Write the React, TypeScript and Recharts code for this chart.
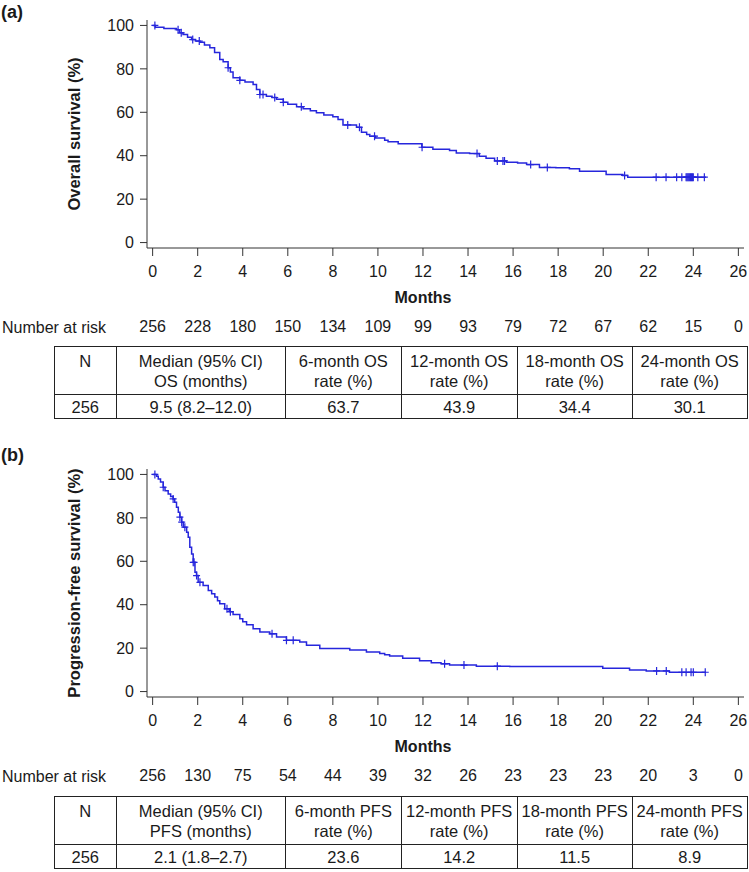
import React from 'react';
import { ComposedChart, Line, Scatter, XAxis, YAxis } from 'recharts';

const monthTicks = [0, 2, 4, 6, 8, 10, 12, 14, 16, 18, 20, 22, 24, 26];
const survivalTicks = [0, 20, 40, 60, 80, 100];

// ---- Overall survival (panel a) ----
const osMonths = [0, 0.12, 0.5, 1.06, 1.2, 1.35, 1.55, 1.73, 1.9, 2.1, 2.3, 2.54, 2.75, 2.98, 3.13, 3.35, 3.45, 3.57, 3.87, 4.1, 4.46, 4.61, 4.76, 5.05, 5.3, 5.5, 5.8, 6.0, 6.39, 6.68, 7.0, 7.27, 7.6, 8.0, 8.23, 8.45, 9.05, 9.27, 9.5, 9.64, 9.9, 10.3, 10.45, 10.9, 11.95, 12.44, 13.18, 13.48, 14.07, 14.5, 14.8, 15.18, 15.7, 16.2, 16.6, 17.17, 17.9, 18.5, 18.95, 20.13, 20.87, 21.09, 24.56];
const osSurvival = [100, 99.2, 98.6, 98.0, 96.6, 95.8, 94.5, 93.5, 92.8, 92.3, 91.0, 89.7, 87.5, 84.3, 83.3, 80.5, 78.5, 75.9, 74.7, 74.0, 72.8, 70.5, 68.2, 67.4, 66.8, 66.0, 64.6, 63.7, 62.6, 61.6, 60.7, 59.8, 58.8, 57.9, 56.7, 54.2, 53.1, 50.8, 49.8, 49.0, 48.2, 47.1, 46.4, 45.5, 43.9, 43.0, 42.4, 41.3, 41.0, 39.8, 38.8, 37.6, 37.0, 36.7, 35.9, 34.6, 34.4, 34.0, 32.9, 31.3, 30.9, 30.1, 30.1];
const osCensorMonths = [0.1, 1.13, 1.27, 1.78, 2.07, 3.35, 3.87, 4.76, 4.9, 5.42, 5.8, 6.6, 8.66, 9.18, 9.85, 11.96, 14.4, 15.3, 15.55, 15.62, 16.78, 17.52, 20.95, 22.35, 22.79, 23.26, 23.49, 23.68, 23.72, 23.76, 23.8, 23.84, 23.88, 23.92, 23.96, 24.0, 24.2, 24.49];
const osAtRisk = [256, 228, 180, 150, 134, 109, 99, 93, 79, 72, 67, 62, 15, 0];
const osHeader = [['N'], ['Median (95% CI)', 'OS (months)'], ['6-month OS', 'rate (%)'], ['12-month OS', 'rate (%)'], ['18-month OS', 'rate (%)'], ['24-month OS', 'rate (%)']];
const osRow = ['256', '9.5 (8.2–12.0)', '63.7', '43.9', '34.4', '30.1'];

// ---- Progression-free survival (panel b) ----
const pfsMonths = [0, 0.18, 0.25, 0.35, 0.47, 0.55, 0.69, 0.8, 0.91, 0.98, 1.06, 1.14, 1.21, 1.29, 1.36, 1.51, 1.58, 1.65, 1.73, 1.8, 1.88, 1.95, 2.02, 2.24, 2.47, 2.62, 2.76, 2.88, 2.98, 3.2, 3.4, 3.57, 3.87, 4.0, 4.17, 4.46, 4.76, 5.2, 5.5, 5.94, 6.53, 6.83, 7.42, 8.75, 9.49, 10.08, 10.3, 10.52, 11.1, 11.85, 12.37, 12.8, 13.18, 14.37, 15.85, 19.98, 21.17, 21.91, 22.94, 24.56];
const pfsSurvival = [100, 99.2, 97.9, 96.5, 94.1, 92.5, 91.0, 89.8, 88.7, 87.2, 84.9, 82.6, 80.3, 78.0, 75.7, 73.4, 71.1, 66.5, 63.4, 59.5, 54.9, 53.4, 50.3, 48.8, 46.5, 45.0, 43.5, 41.8, 40.4, 38.1, 36.8, 35.5, 33.5, 32.2, 30.8, 28.9, 27.4, 26.6, 25.1, 23.6, 22.8, 21.3, 19.8, 19.2, 18.2, 17.5, 17.0, 16.4, 15.3, 14.2, 13.3, 12.8, 12.2, 11.7, 11.5, 10.7, 9.9, 9.5, 8.9, 8.9];
const pfsCensorMonths = [0.1, 0.47, 0.91, 1.21, 1.29, 1.43, 1.8, 1.84, 1.95, 2.1, 3.3, 3.45, 5.3, 5.94, 6.24, 12.96, 13.82, 15.3, 22.37, 22.8, 23.49, 23.68, 23.9, 24.0, 24.53];
const pfsAtRisk = [256, 130, 75, 54, 44, 39, 32, 26, 23, 23, 23, 20, 3, 0];
const pfsHeader = [['N'], ['Median (95% CI)', 'PFS (months)'], ['6-month PFS', 'rate (%)'], ['12-month PFS', 'rate (%)'], ['18-month PFS', 'rate (%)'], ['24-month PFS', 'rate (%)']];
const pfsRow = ['256', '2.1 (1.8–2.7)', '23.6', '14.2', '11.5', '8.9'];

const colWidths = [61.5, 169.5, 115.7, 116, 115, 115];
const FONT = '"Liberation Sans", Arial, sans-serif';
const BLUE = '#2626dc';
const TEXT = '#1a1a1a';

function stepAt(months: number[], values: number[], t: number) {
  let v = values[0];
  for (let i = 0; i < months.length; i++) if (months[i] <= t) v = values[i];
  return v;
}

const CensorMark = (props: any) => {
  const { cx, cy } = props;
  if (cx == null || cy == null) return null;
  return <path d={`M${cx - 3.5},${cy}h7M${cx},${cy - 4}v8`} stroke={BLUE} strokeWidth={1.2} fill="none" />;
};

type PanelProps = {
  top: number;
  letter: string;
  letterTop: number;
  yLabel: string;
  months: number[];
  values: number[];
  censor: number[];
  atRisk: number[];
  header: string[][];
  row: string[];
  tableTop: number;
};

function Panel(p: PanelProps) {
  const curve = p.months.map((m, i) => ({ m, v: p.values[i] }));
  const marks = p.censor.map((m) => ({ m, v: stepAt(p.months, p.values, m) }));
  const cell: React.CSSProperties = { border: '1px solid #222', padding: 0, textAlign: 'center', verticalAlign: 'middle', whiteSpace: 'nowrap' };
  return (
    <div style={{ position: 'absolute', left: 0, top: p.top, width: 749, height: 430 }}>
      <div style={{ position: 'absolute', left: 1, top: p.letterTop, fontWeight: 'bold', fontSize: 18, lineHeight: '18px', color: TEXT }}>{p.letter}</div>
      <ComposedChart width={749} height={343} margin={{ top: 20, right: 5, bottom: 0, left: 0 }}>
        <XAxis
          xAxisId="m"
          dataKey="m"
          type="number"
          domain={[-0.25, 26.25]}
          ticks={monthTicks}
          interval={0}
          allowDataOverflow
          height={60}
          tickSize={8}
          tickMargin={10}
          stroke="#333"
          tick={{ fill: TEXT, fontSize: 16 }}
          label={{
            content: (lp: any) => {
              const vb = lp.viewBox || { x: 147, y: 248, width: 597 };
              return (
                <text x={vb.x + vb.width * (12.25 / 26.5)} y={vb.y + 54.5} textAnchor="middle" fontWeight="bold" fontSize={16} fill={TEXT}>
                  Months
                </text>
              );
            },
          }}
        />
        <XAxis
          xAxisId="risk"
          dataKey="m"
          type="number"
          domain={[-0.25, 26.25]}
          ticks={monthTicks}
          interval={0}
          allowDataOverflow
          height={35}
          axisLine={false}
          tickLine={false}
          tickSize={0}
          tickMargin={13}
          tick={{ fill: TEXT, fontSize: 16 }}
          tickFormatter={(v: number) => String(p.atRisk[monthTicks.indexOf(v)])}
          label={{
            content: (lp: any) => {
              const vb = lp.viewBox || { y: 308 };
              return (
                <text x={2} y={vb.y + 24.7} textAnchor="start" fontSize={16} fill={TEXT}>
                  Number at risk
                </text>
              );
            },
          }}
        />
        <YAxis
          dataKey="v"
          type="number"
          domain={[-2.5, 102.5]}
          ticks={survivalTicks}
          interval={0}
          allowDataOverflow
          width={147}
          tickSize={7}
          tickMargin={6}
          stroke="#333"
          tick={{ fill: TEXT, fontSize: 16 }}
          label={{
            content: (lp: any) => {
              const vb = lp.viewBox || { y: 20, height: 228 };
              const cy = vb.y + vb.height / 2;
              return (
                <text x={80} y={cy} transform={`rotate(-90 80 ${cy})`} textAnchor="middle" fontWeight="bold" fontSize={16.5} fill={TEXT}>
                  {p.yLabel}
                </text>
              );
            },
          }}
        />
        <Line xAxisId="risk" data={curve} dataKey="v" type="stepAfter" stroke="none" strokeWidth={0} dot={false} activeDot={false} isAnimationActive={false} legendType="none" />
        <Line xAxisId="m" data={curve} dataKey="v" type="stepAfter" stroke={BLUE} strokeWidth={1.5} dot={false} activeDot={false} isAnimationActive={false} />
        <Scatter xAxisId="m" data={marks} dataKey="v" shape={CensorMark} isAnimationActive={false} />
      </ComposedChart>
      <table
        style={{
          position: 'absolute',
          left: 54,
          top: p.tableTop,
          width: 693,
          borderCollapse: 'collapse',
          tableLayout: 'fixed',
          fontSize: 16.5,
          color: TEXT,
          fontFamily: FONT,
        }}
      >
        <colgroup>
          {colWidths.map((w, i) => (
            <col key={i} style={{ width: w }} />
          ))}
        </colgroup>
        <tbody>
          <tr style={{ height: 48 }}>
            {p.header.map((lines, i) => (
              <td key={i} style={{ ...cell, verticalAlign: 'top', paddingTop: 4, lineHeight: '20px' }}>
                {lines.map((l, j) => (
                  <div key={j}>{l}</div>
                ))}
              </td>
            ))}
          </tr>
          <tr style={{ height: 24 }}>
            {p.row.map((c, i) => (
              <td key={i} style={{ ...cell, lineHeight: '20px' }}>{c}</td>
            ))}
          </tr>
        </tbody>
      </table>
    </div>
  );
}

export default function App() {
  return (
    <div style={{ position: 'absolute', left: 0, top: 0, width: 749, height: 872, background: '#fff', fontFamily: FONT, overflow: 'hidden' }}>
      <Panel
        top={0}
        letter="(a)"
        letterTop={3}
        yLabel="Overall survival (%)"
        months={osMonths}
        values={osSurvival}
        censor={osCensorMonths}
        atRisk={osAtRisk}
        header={osHeader}
        row={osRow}
        tableTop={346}
      />
      <Panel
        top={449}
        letter="(b)"
        letterTop={-3}
        yLabel="Progression-free survival (%)"
        months={pfsMonths}
        values={pfsSurvival}
        censor={pfsCensorMonths}
        atRisk={pfsAtRisk}
        header={pfsHeader}
        row={pfsRow}
        tableTop={347}
      />
    </div>
  );
}
